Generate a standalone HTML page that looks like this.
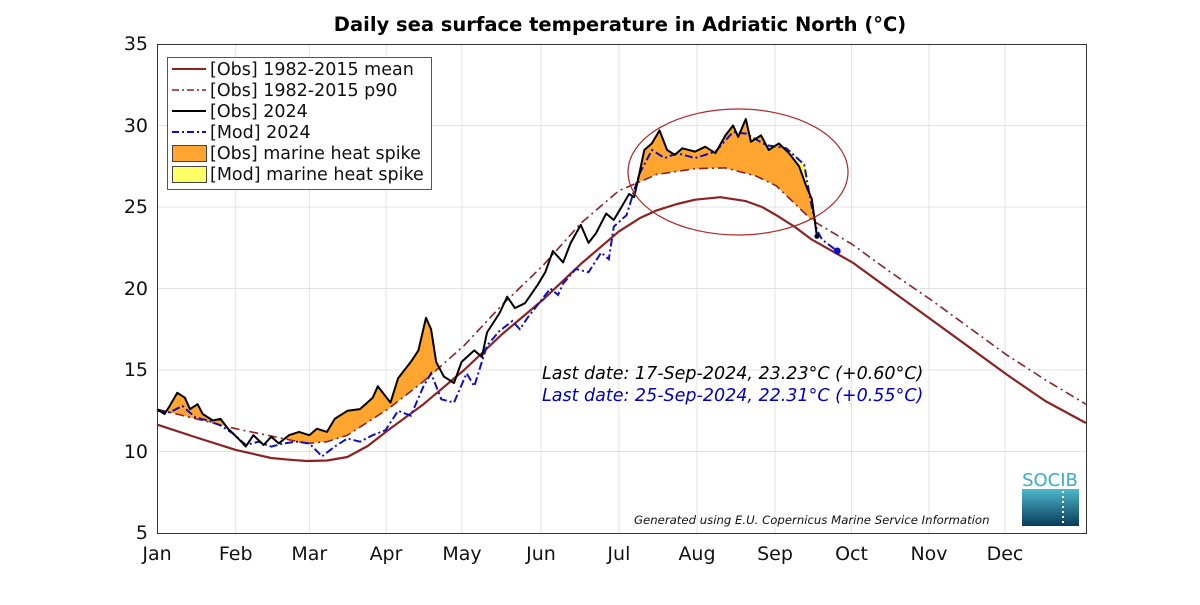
<!DOCTYPE html>
<html><head><meta charset="utf-8"><style>
body{margin:0;background:#fff}
svg text{font-family:"DejaVu Sans","Liberation Sans",sans-serif}
</style></head><body>
<svg width="1200" height="600" xmlns="http://www.w3.org/2000/svg">
<defs>
<clipPath id="abovep90"><path d="M157,409.1 L235.7,428.7 L306.7,443.4 L327,441.7 L347.4,435.2 L388,409.1 L423.5,381.4 L464.1,345.6 L502.2,304.8 L542.8,265.7 L580.8,223.3 L618.9,190.7 L657,174.4 L695.1,168.7 L725.5,167.9 L756,176 L776.3,185.8 L811.8,220 L852.4,244.5 L890.5,272.2 L931.1,299.9 L969.2,327.6 L1007.2,355.3 L1045.3,379.8 L1085.9,404.2 L1086,44 L157,44 Z"/></clipPath>
<linearGradient id="sg" x1="0" y1="0" x2="0" y2="1"><stop offset="0" stop-color="#4cb8cc"/><stop offset="1" stop-color="#0a3a5a"/></linearGradient>
</defs>
<rect width="1200" height="600" fill="#fff"/>
<text x="620" y="31" text-anchor="middle" font-size="19.5" font-weight="bold">Daily sea surface temperature in Adriatic North (°C)</text>
<g stroke="#e3e3e3" stroke-width="1">
<line x1="235.7" x2="235.7" y1="44" y2="533"/><line x1="309.3" x2="309.3" y1="44" y2="533"/><line x1="386" x2="386" y1="44" y2="533"/><line x1="462" x2="462" y1="44" y2="533"/><line x1="541" x2="541" y1="44" y2="533"/><line x1="618.9" x2="618.9" y1="44" y2="533"/><line x1="697" x2="697" y1="44" y2="533"/><line x1="775" x2="775" y1="44" y2="533"/><line x1="851.5" x2="851.5" y1="44" y2="533"/><line x1="929" x2="929" y1="44" y2="533"/><line x1="1005" x2="1005" y1="44" y2="533"/>
<line x1="157" x2="1086" y1="451.5" y2="451.5"/><line x1="157" x2="1086" y1="370" y2="370"/><line x1="157" x2="1086" y1="288.5" y2="288.5"/><line x1="157" x2="1086" y1="207" y2="207"/><line x1="157" x2="1086" y1="125.5" y2="125.5"/>
</g>
<g clip-path="url(#abovep90)">
<path fill="#ffff66" d="M157,410.8 L169.7,412.4 L182.4,405.9 L195.1,417.3 L207.8,420.5 L220.5,425.4 L233.1,433.6 L245.8,445 L258.5,441.7 L271.2,446.6 L283.9,443.4 L296.6,441.7 L309.3,443.4 L322,456.4 L334.7,446.6 L347.4,438.5 L360,441.7 L372.7,435.2 L385.4,430.3 L398.1,410.8 L410.8,415.7 L423.5,386.3 L431.1,373.3 L441.3,399.3 L454,402.6 L466.6,373.3 L474.3,386.3 L479.3,370 L487,345.6 L499.6,330.9 L512.3,321.1 L519.9,329.3 L527.5,317.8 L537.7,304.8 L550.4,288.5 L558,295 L563.1,283.6 L575.8,269 L588.5,272.2 L601.2,252.6 L608.8,259.2 L613.8,226.6 L626.5,215.2 L639.2,174.4 L651.9,150 L664.6,158.1 L677.3,153.2 L695.1,158.1 L715.4,151.6 L733.1,132 L745.8,133.6 L766.1,145.1 L786.4,148.3 L804.2,164.6 L811.8,207 L816.9,229.8 L822,239.6 L837.2,251 L837.2,533 L157,533 Z"/>
<path fill="#ffa530" d="M157,409.1 L164.6,414 L169.7,405.9 L177.3,392.8 L184.9,397.7 L190,409.1 L197.6,404.2 L202.7,414 L212.8,420.5 L220.5,418.9 L228.1,428.7 L238.2,438.5 L245.8,446.6 L253.4,435.2 L263.6,445 L271.2,436.8 L278.8,443.4 L289,435.2 L299.1,431.9 L309.3,435.2 L316.9,428.7 L327,431.9 L334.7,418.9 L347.4,410.8 L360,409.1 L372.7,397.7 L377.8,386.3 L385.4,396.1 L390.5,402.6 L398.1,378.2 L410.8,361.9 L418.4,350.4 L426,317.8 L431.1,329.3 L436.2,361.9 L443.8,376.5 L454,383 L461.6,361.9 L474.3,350.4 L481.9,357 L487,332.5 L499.6,313 L507.2,296.7 L514.9,308.1 L525,303.2 L537.7,284.8 L545.3,272.2 L552.9,251 L563.1,262.4 L570.7,242.9 L580.8,224.9 L588.5,242.9 L596.1,233.1 L606.2,213.5 L613.8,220 L621.5,207 L629.1,194 L634.1,197.2 L639.2,174.4 L644.3,150 L651.9,143.4 L659.5,130.4 L667.1,150 L674.8,154.9 L682.4,148.3 L695.1,151.6 L705.2,146.7 L715.4,153.2 L725.5,135.3 L733.1,125.5 L738.2,136.9 L745.8,119 L750.9,141.8 L761,135.3 L768.7,150 L778.8,143.4 L789,153.2 L799.1,166.3 L806.7,187.4 L811.8,198.9 L816.9,236.3 L816.9,533 L157,533 Z"/>
</g>
<path fill="none" stroke="#8b2323" stroke-width="2.2" stroke-linejoin="round" d="M157,424.6 L195,437 L235.7,449.9 L271.2,458 L289,459.7 L306.7,461 L327,460.5 L347.4,457 L367.7,446 L388,430.3 L423.5,404.2 L464.1,370 L502.2,334.1 L542.8,299.9 L580.8,264 L618.9,231.4 L640,218 L657,210.3 L677,204 L695.1,199.7 L720.4,197.2 L745.8,201.1 L762,207 L776.3,215.2 L795,227 L811.8,239.6 L852.4,262.4 L890.5,290.1 L931.1,319.5 L969.2,347.2 L1007.2,374.9 L1045.3,401 L1085.9,423"/>
<path fill="none" stroke="#8b2323" stroke-width="1.6" stroke-dasharray="9,4,2,4" d="M157,409.1 L235.7,428.7 L306.7,443.4 L327,441.7 L347.4,435.2 L388,409.1 L423.5,381.4 L464.1,345.6 L502.2,304.8 L542.8,265.7 L580.8,223.3 L618.9,190.7 L657,174.4 L695.1,168.7 L725.5,167.9 L756,176 L776.3,185.8 L811.8,220 L852.4,244.5 L890.5,272.2 L931.1,299.9 L969.2,327.6 L1007.2,355.3 L1045.3,379.8 L1085.9,404.2"/>
<path fill="none" stroke="#1010c0" stroke-width="2" stroke-dasharray="8,3,2,3" d="M157,410.8 L169.7,412.4 L182.4,405.9 L195.1,417.3 L207.8,420.5 L220.5,425.4 L233.1,433.6 L245.8,445 L258.5,441.7 L271.2,446.6 L283.9,443.4 L296.6,441.7 L309.3,443.4 L322,456.4 L334.7,446.6 L347.4,438.5 L360,441.7 L372.7,435.2 L385.4,430.3 L398.1,410.8 L410.8,415.7 L423.5,386.3 L431.1,373.3 L441.3,399.3 L454,402.6 L466.6,373.3 L474.3,386.3 L479.3,370 L487,345.6 L499.6,330.9 L512.3,321.1 L519.9,329.3 L527.5,317.8 L537.7,304.8 L550.4,288.5 L558,295 L563.1,283.6 L575.8,269 L588.5,272.2 L601.2,252.6 L608.8,259.2 L613.8,226.6 L626.5,215.2 L639.2,174.4 L651.9,150 L664.6,158.1 L677.3,153.2 L695.1,158.1 L715.4,151.6 L733.1,132 L745.8,133.6 L766.1,145.1 L786.4,148.3 L804.2,164.6 L811.8,207 L816.9,229.8 L822,239.6 L837.2,251"/>
<path fill="none" stroke="#000" stroke-width="2" stroke-linejoin="round" d="M157,409.1 L164.6,414 L169.7,405.9 L177.3,392.8 L184.9,397.7 L190,409.1 L197.6,404.2 L202.7,414 L212.8,420.5 L220.5,418.9 L228.1,428.7 L238.2,438.5 L245.8,446.6 L253.4,435.2 L263.6,445 L271.2,436.8 L278.8,443.4 L289,435.2 L299.1,431.9 L309.3,435.2 L316.9,428.7 L327,431.9 L334.7,418.9 L347.4,410.8 L360,409.1 L372.7,397.7 L377.8,386.3 L385.4,396.1 L390.5,402.6 L398.1,378.2 L410.8,361.9 L418.4,350.4 L426,317.8 L431.1,329.3 L436.2,361.9 L443.8,376.5 L454,383 L461.6,361.9 L474.3,350.4 L481.9,357 L487,332.5 L499.6,313 L507.2,296.7 L514.9,308.1 L525,303.2 L537.7,284.8 L545.3,272.2 L552.9,251 L563.1,262.4 L570.7,242.9 L580.8,224.9 L588.5,242.9 L596.1,233.1 L606.2,213.5 L613.8,220 L621.5,207 L629.1,194 L634.1,197.2 L639.2,174.4 L644.3,150 L651.9,143.4 L659.5,130.4 L667.1,150 L674.8,154.9 L682.4,148.3 L695.1,151.6 L705.2,146.7 L715.4,153.2 L725.5,135.3 L733.1,125.5 L738.2,136.9 L745.8,119 L750.9,141.8 L761,135.3 L768.7,150 L778.8,143.4 L789,153.2 L799.1,166.3 L806.7,187.4 L811.8,198.9 L816.9,236.3"/>
<circle cx="837.2" cy="251" r="3.5" fill="#1010c0"/>
<circle cx="816.9" cy="236.3" r="2.5" fill="#000"/>
<ellipse cx="738" cy="172" rx="110" ry="63" fill="none" stroke="#b02828" stroke-width="1.2"/>
<rect x="157.5" y="44.5" width="929" height="489" fill="none" stroke="#333" stroke-width="1"/>
<g font-size="19" fill="#111" text-anchor="middle">
<text x="157" y="560">Jan</text><text x="235.7" y="560">Feb</text><text x="309.3" y="560">Mar</text><text x="386" y="560">Apr</text><text x="462" y="560">May</text><text x="541" y="560">Jun</text><text x="618.9" y="560">Jul</text><text x="697" y="560">Aug</text><text x="775" y="560">Sep</text><text x="851.5" y="560">Oct</text><text x="929" y="560">Nov</text><text x="1005" y="560">Dec</text>
</g>
<g font-size="19" fill="#111" text-anchor="end">
<text x="148" y="539">5</text><text x="148" y="458">10</text><text x="148" y="376">15</text><text x="148" y="295">20</text><text x="148" y="213">25</text><text x="148" y="132">30</text><text x="148" y="50">35</text>
</g>
<text x="542" y="379" font-size="17.5" font-style="italic" fill="#000">Last date: 17-Sep-2024, 23.23°C (+0.60°C)</text>
<text x="542" y="401" font-size="17.5" font-style="italic" fill="#0000c0">Last date: 25-Sep-2024, 22.31°C (+0.55°C)</text>
<text x="634" y="524" font-size="11.7" font-style="italic" fill="#111">Generated using E.U. Copernicus Marine Service Information</text>
<text x="1050" y="486" font-size="18" fill="#3aaec4" text-anchor="middle">SOCIB</text>
<rect x="1022" y="489" width="57" height="37" fill="url(#sg)"/>
<line x1="1063" y1="491" x2="1063" y2="524" stroke="#fff" stroke-width="2" stroke-dasharray="2,3"/>
<g font-size="17.5" fill="#111">
<rect x="167.5" y="57.5" width="264" height="132" fill="#fff" stroke="#555"/>
<line x1="172" y1="69" x2="206" y2="69" stroke="#8b2323" stroke-width="2"/>
<text x="210" y="75">[Obs] 1982-2015 mean</text>
<line x1="172" y1="90" x2="206" y2="90" stroke="#8b2323" stroke-width="1.5" stroke-dasharray="7,3,2,3"/>
<text x="210" y="96">[Obs] 1982-2015 p90</text>
<line x1="172" y1="111" x2="206" y2="111" stroke="#000" stroke-width="2"/>
<text x="210" y="117">[Obs] 2024</text>
<line x1="172" y1="132" x2="206" y2="132" stroke="#1010c0" stroke-width="2" stroke-dasharray="7,3,2,3"/>
<text x="210" y="138">[Mod] 2024</text>
<rect x="172.5" y="145.5" width="34" height="16" fill="#ffa530" stroke="#444"/>
<text x="210" y="159">[Obs] marine heat spike</text>
<rect x="172.5" y="166.5" width="34" height="16" fill="#ffff66" stroke="#444"/>
<text x="210" y="180">[Mod] marine heat spike</text>
</g>
</svg>
</body></html>
